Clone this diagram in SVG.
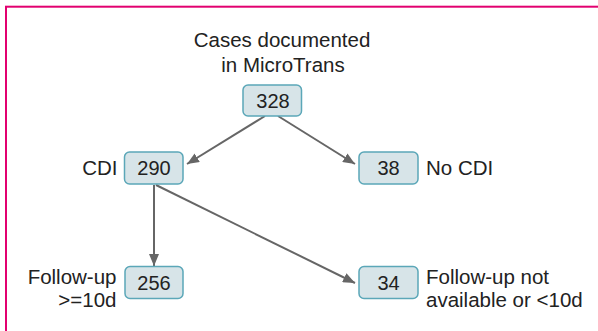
<svg xmlns="http://www.w3.org/2000/svg" width="598" height="331" viewBox="0 0 598 331">
<style>
.box{fill:#d7e4e8;stroke:#5ba7b8;stroke-width:1.5}
.num{font-family:"Liberation Sans",Arial,sans-serif;font-size:20px;fill:#222;text-anchor:middle}
.lbl{font-family:"Liberation Sans",Arial,sans-serif;font-size:20.5px;fill:#222}
.edge{stroke:#666;stroke-width:2;fill:none;marker-end:url(#ah)}
</style>
<defs>
<marker id="ah" markerUnits="userSpaceOnUse" markerWidth="12" markerHeight="10" refX="12" refY="5" orient="auto">
<path d="M0,0 L12,5 L0,10 z" fill="#666"/>
</marker>
</defs>
<rect x="0" y="0" width="598" height="331" fill="#fff"/>
<rect x="6" y="6.7" width="610" height="340" fill="none" stroke="#e2006f" stroke-width="2"/>
<g id="connectors">
<path class="edge" d="M265,116 L187,164"/>
<path class="edge" d="M278,116 L355,164"/>
<path class="edge" d="M154,185 L154,266"/>
<path class="edge" d="M156,185 L355,283"/>
</g>
<g id="title">
<text class="lbl" x="282" y="46.7" text-anchor="middle">Cases documented</text>
<text class="lbl" x="283" y="71.5" text-anchor="middle">in MicroTrans</text>
</g>
<g id="n328">
<rect class="box" x="243" y="85" width="58.5" height="31" rx="5"/>
<text class="num" x="273" y="107.5">328</text>
</g>
<g id="n290">
<rect class="box" x="124.5" y="152" width="58.5" height="32" rx="5"/>
<text class="num" x="154" y="175">290</text>
<text class="lbl" x="117.5" y="175" text-anchor="end">CDI</text>
</g>
<g id="n38">
<rect class="box" x="359" y="152" width="59" height="32" rx="5"/>
<text class="num" x="388.5" y="175">38</text>
<text class="lbl" x="426" y="175">No CDI</text>
</g>
<g id="n256">
<rect class="box" x="125" y="266.5" width="58" height="32" rx="5"/>
<text class="num" x="154" y="289.5">256</text>
<text class="lbl" x="116.5" y="283.5" text-anchor="end">Follow-up</text>
<text class="lbl" x="116.5" y="306.5" text-anchor="end">&gt;=10d</text>
</g>
<g id="n34">
<rect class="box" x="359" y="266.5" width="59" height="32" rx="5"/>
<text class="num" x="388.5" y="289.5">34</text>
<text class="lbl" x="426" y="283.5">Follow-up not</text>
<text class="lbl" x="426" y="306.5">available or &lt;10d</text>
</g>
</svg>
